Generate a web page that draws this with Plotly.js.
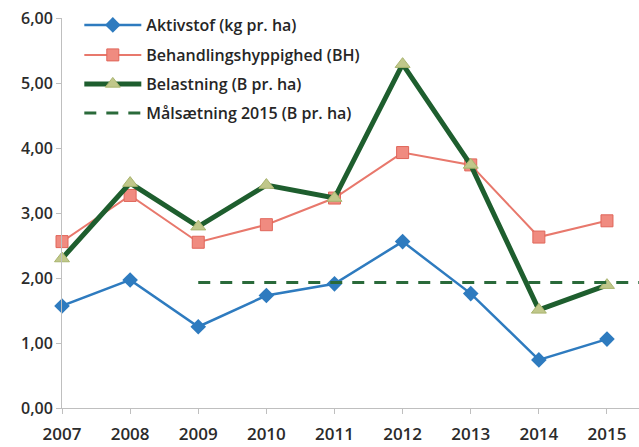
<!DOCTYPE html>
<html>
<head>
<meta charset="utf-8">
<script src="https://cdn.plot.ly/plotly-3.0.1.min.js"></script>
<style>html,body{margin:0;padding:0;background:#fff;}#chart{width:639px;height:447px;}</style>
</head>
<body>
<div id="chart"></div>
<script>
var years = [2007, 2008, 2009, 2010, 2011, 2012, 2013, 2014, 2015];
var aktivstof = [1.57, 1.97, 1.25, 1.73, 1.91, 2.56, 1.76, 0.74, 1.06];
var behandling = [2.56, 3.27, 2.55, 2.82, 3.23, 3.93, 3.74, 2.63, 2.88];
var belastning = [2.30, 3.46, 2.79, 3.43, 3.23, 5.29, 3.74, 1.51, 1.89];
var goalYears = [2009, 2010, 2011, 2012, 2013, 2014, 2015, 2016];
var goal = [1.93, 1.93, 1.93, 1.93, 1.93, 1.93, 1.93, 1.93];
var yTicks = [0, 1, 2, 3, 4, 5, 6];

var legFont = {family: 'Open Sans, sans-serif', size: 16, color: '#262626', weight: 600};
function leg(ypx) {
  return {x: 0.03, xanchor: 'left', y: 1 - (ypx - 18) / 390, yanchor: 'middle',
          bgcolor: 'rgba(0,0,0,0)', font: legFont, itemwidth: 57, borderwidth: 0};
}

var traces = [
  {x: years, y: aktivstof, name: 'Aktivstof (kg pr. ha)', type: 'scatter', mode: 'lines+markers',
   line: {color: '#2e7bbf', width: 2.5}, marker: {symbol: 'diamond', size: 12, color: '#2e7bbf'},
   cliponaxis: false, legend: 'legend'},
  {x: years, y: behandling, name: 'Behandlingshyppighed (BH)', type: 'scatter', mode: 'lines+markers',
   line: {color: '#e8786c', width: 2}, marker: {symbol: 'square', size: 12, color: '#f08b80', line: {color: '#e0665a', width: 1}},
   cliponaxis: false, legend: 'legend2'},
  {x: years, y: belastning, name: 'Belastning (B pr. ha)', type: 'scatter', mode: 'lines+markers',
   line: {color: '#1e5e2e', width: 5}, marker: {symbol: 'triangle-up', size: 13, color: '#c0c78a', line: {color: '#a9b46e', width: 1}},
   cliponaxis: false, legend: 'legend3'},
  {x: goalYears, y: goal, name: 'Målsætning 2015 (B pr. ha)', type: 'scatter', mode: 'lines',
   line: {color: '#2a6a3a', width: 3, dash: '12px,10px'}, legend: 'legend4'}
];

var yTickFont = {family: 'Open Sans, sans-serif', size: 16, color: '#2b2b2b', weight: 600};
var xTickFont = {family: 'Open Sans, sans-serif', size: 17, color: '#2b2b2b', weight: 600};
var layout = {
  width: 639, height: 447,
  margin: {l: 62, r: 0, t: 18, b: 39},
  paper_bgcolor: '#fff', plot_bgcolor: '#fff',
  separators: ',.',
  showlegend: true,
  legend: leg(25), legend2: leg(55), legend3: leg(84), legend4: leg(113),
  xaxis: {range: [2007, 2015.47], tickvals: years, ticktext: years.map(String),
          showgrid: false, zeroline: false, showline: true, linecolor: '#bfbfbf', linewidth: 1,
          ticks: 'outside', ticklen: 5, tickcolor: '#bfbfbf', tickfont: xTickFont, ticklabelstandoff: 6},
  yaxis: {range: [0, 6], tickvals: yTicks, tickformat: '.2f',
          showgrid: false, zeroline: false, showline: true, linecolor: '#bfbfbf', linewidth: 1,
          ticks: 'outside', ticklen: 5, tickcolor: '#bfbfbf', tickfont: yTickFont}
};

Plotly.newPlot('chart', traces, layout, {displayModeBar: false, staticPlot: true});
</script>
</body>
</html>
